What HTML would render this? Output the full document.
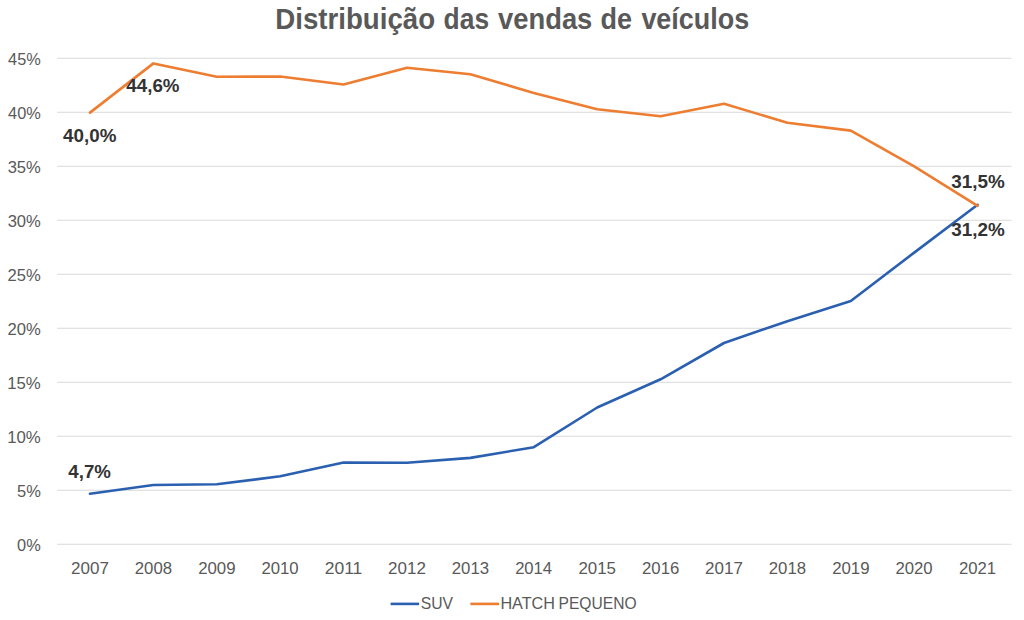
<!DOCTYPE html>
<html><head><meta charset="utf-8"><title>Distribuição das vendas de veículos</title>
<style>
html,body{margin:0;padding:0;background:#fff;}
body{width:1024px;height:620px;overflow:hidden;font-family:"Liberation Sans",sans-serif;}
svg{display:block;}
text{font-family:"Liberation Sans",sans-serif;}
.ax{font-size:17.0px;fill:#595959;}
.dl{font-size:18.0px;font-weight:bold;fill:#333333;}
.ttl{font-size:28.9px;font-weight:bold;fill:#595959;}
.lg{font-size:17.3px;fill:#595959;}
</style></head><body>
<svg width="1024" height="620" viewBox="0 0 1024 620">
<rect x="0" y="0" width="1024" height="620" fill="#ffffff"/>
<line x1="57.1" y1="58.30" x2="1011.5" y2="58.30" stroke="#d9d9d9" stroke-width="1.1"/>
<line x1="57.1" y1="112.30" x2="1011.5" y2="112.30" stroke="#d9d9d9" stroke-width="1.1"/>
<line x1="57.1" y1="166.30" x2="1011.5" y2="166.30" stroke="#d9d9d9" stroke-width="1.1"/>
<line x1="57.1" y1="220.30" x2="1011.5" y2="220.30" stroke="#d9d9d9" stroke-width="1.1"/>
<line x1="57.1" y1="274.30" x2="1011.5" y2="274.30" stroke="#d9d9d9" stroke-width="1.1"/>
<line x1="57.1" y1="328.30" x2="1011.5" y2="328.30" stroke="#d9d9d9" stroke-width="1.1"/>
<line x1="57.1" y1="382.30" x2="1011.5" y2="382.30" stroke="#d9d9d9" stroke-width="1.1"/>
<line x1="57.1" y1="436.30" x2="1011.5" y2="436.30" stroke="#d9d9d9" stroke-width="1.1"/>
<line x1="57.1" y1="490.30" x2="1011.5" y2="490.30" stroke="#d9d9d9" stroke-width="1.1"/>
<line x1="57.1" y1="544.30" x2="1011.5" y2="544.30" stroke="#d9d9d9" stroke-width="1.1"/>
<polyline points="90.00,493.70 153.40,485.00 216.80,484.30 280.20,476.30 343.60,462.60 407.00,462.70 470.40,457.90 533.80,447.20 597.20,407.50 660.60,379.30 724.00,343.00 787.40,321.20 850.80,301.00 914.20,252.60 977.60,204.80" fill="none" stroke="#2b60b0" stroke-width="2.6" stroke-linejoin="round" stroke-linecap="round"/>
<polyline points="90.00,112.60 153.40,63.40 216.80,76.70 280.20,76.50 343.60,84.50 407.00,67.80 470.40,74.30 533.80,93.00 597.20,109.30 660.60,116.30 724.00,103.70 787.40,122.80 850.80,130.60 914.20,166.30 977.60,205.80" fill="none" stroke="#ed7d31" stroke-width="2.6" stroke-linejoin="round" stroke-linecap="round"/>
<line x1="390.6" y1="603.9" x2="419.1" y2="603.9" stroke="#2b60b0" stroke-width="2.6"/>
<line x1="470.4" y1="603.9" x2="499.1" y2="603.9" stroke="#ed7d31" stroke-width="2.6"/>
<text class="ttl" x="275.23" y="29.10" textLength="159.93" lengthAdjust="spacingAndGlyphs">Distribuição</text>
<text class="ttl" x="443.60" y="29.10" textLength="45.49" lengthAdjust="spacingAndGlyphs">das</text>
<text class="ttl" x="498.02" y="29.10" textLength="94.34" lengthAdjust="spacingAndGlyphs">vendas</text>
<text class="ttl" x="600.59" y="29.10" textLength="31.56" lengthAdjust="spacingAndGlyphs">de</text>
<text class="ttl" x="641.39" y="29.10" textLength="107.85" lengthAdjust="spacingAndGlyphs">veículos</text>
<text class="ax" x="8.08" y="64.80" textLength="32.67" lengthAdjust="spacingAndGlyphs">45%</text>
<text class="ax" x="8.08" y="118.80" textLength="32.67" lengthAdjust="spacingAndGlyphs">40%</text>
<text class="ax" x="7.64" y="172.80" textLength="33.16" lengthAdjust="spacingAndGlyphs">35%</text>
<text class="ax" x="7.64" y="226.80" textLength="33.16" lengthAdjust="spacingAndGlyphs">30%</text>
<text class="ax" x="7.52" y="280.80" textLength="33.24" lengthAdjust="spacingAndGlyphs">25%</text>
<text class="ax" x="7.52" y="334.80" textLength="33.24" lengthAdjust="spacingAndGlyphs">20%</text>
<text class="ax" x="7.15" y="388.80" textLength="33.58" lengthAdjust="spacingAndGlyphs">15%</text>
<text class="ax" x="7.15" y="442.80" textLength="33.58" lengthAdjust="spacingAndGlyphs">10%</text>
<text class="ax" x="17.10" y="496.80" textLength="23.80" lengthAdjust="spacingAndGlyphs">5%</text>
<text class="ax" x="17.12" y="550.80" textLength="23.64" lengthAdjust="spacingAndGlyphs">0%</text>
<text class="ax" x="71.11" y="574.40" textLength="37.81" lengthAdjust="spacingAndGlyphs">2007</text>
<text class="ax" x="134.78" y="574.40" textLength="37.25" lengthAdjust="spacingAndGlyphs">2008</text>
<text class="ax" x="198.14" y="574.40" textLength="37.41" lengthAdjust="spacingAndGlyphs">2009</text>
<text class="ax" x="261.41" y="574.40" textLength="37.21" lengthAdjust="spacingAndGlyphs">2010</text>
<text class="ax" x="324.69" y="574.40" textLength="37.66" lengthAdjust="spacingAndGlyphs">2011</text>
<text class="ax" x="388.11" y="574.40" textLength="37.81" lengthAdjust="spacingAndGlyphs">2012</text>
<text class="ax" x="451.78" y="574.40" textLength="37.30" lengthAdjust="spacingAndGlyphs">2013</text>
<text class="ax" x="515.14" y="574.40" textLength="37.00" lengthAdjust="spacingAndGlyphs">2014</text>
<text class="ax" x="578.39" y="574.40" textLength="37.52" lengthAdjust="spacingAndGlyphs">2015</text>
<text class="ax" x="642.03" y="574.40" textLength="37.25" lengthAdjust="spacingAndGlyphs">2016</text>
<text class="ax" x="705.11" y="574.40" textLength="37.81" lengthAdjust="spacingAndGlyphs">2017</text>
<text class="ax" x="768.78" y="574.40" textLength="37.25" lengthAdjust="spacingAndGlyphs">2018</text>
<text class="ax" x="832.14" y="574.40" textLength="37.41" lengthAdjust="spacingAndGlyphs">2019</text>
<text class="ax" x="895.41" y="574.40" textLength="37.21" lengthAdjust="spacingAndGlyphs">2020</text>
<text class="ax" x="958.99" y="574.40" textLength="37.17" lengthAdjust="spacingAndGlyphs">2021</text>
<text class="dl" x="63.12" y="141.60" textLength="53.36" lengthAdjust="spacingAndGlyphs">40,0%</text>
<text class="dl" x="126.34" y="91.90" textLength="53.19" lengthAdjust="spacingAndGlyphs">44,6%</text>
<text class="dl" x="951.26" y="187.70" textLength="53.51" lengthAdjust="spacingAndGlyphs">31,5%</text>
<text class="dl" x="951.26" y="236.10" textLength="53.51" lengthAdjust="spacingAndGlyphs">31,2%</text>
<text class="dl" x="68.34" y="477.50" textLength="42.52" lengthAdjust="spacingAndGlyphs">4,7%</text>
<text class="lg" x="420.75" y="608.80" textLength="32.33" lengthAdjust="spacingAndGlyphs">SUV</text>
<text class="lg" x="500.43" y="608.80" textLength="54.61" lengthAdjust="spacingAndGlyphs">HATCH</text>
<text class="lg" x="558.56" y="608.80" textLength="78.03" lengthAdjust="spacingAndGlyphs">PEQUENO</text>
</svg></body></html>
